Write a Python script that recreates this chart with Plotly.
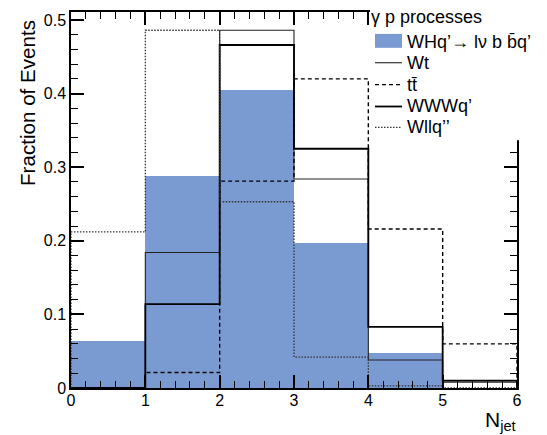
import plotly.graph_objects as go

# Jet multiplicity, normalised to unit area, for the gamma-p processes
bin_edges = [0, 1, 2, 3, 4, 5, 6]
whq = [0.064, 0.288, 0.405, 0.197, 0.048, 0.0]
wt = [0.0, 0.184, 0.486, 0.284, 0.038, 0.008]
ttbar = [0.0, 0.021, 0.281, 0.420, 0.216, 0.060]
wwwq = [0.0, 0.114, 0.466, 0.325, 0.083, 0.010]
wllq = [0.212, 0.486, 0.253, 0.042, 0.003, 0.0]

labels = ["WHq\u2019\u2192 l\u03bd b b\u0304q\u2019", "Wt", "tt\u0304", "WWWq\u2019", "Wllq\u2019\u2019"]
legend_title = "\u03b3 p processes"
x_ticks = [0, 1, 2, 3, 4, 5, 6]
y_ticks = [0, 0.1, 0.2, 0.3, 0.4, 0.5]
y_ticktext = ["0", "0.1", "0.2", "0.3", "0.4", "0.5"]

FILL = "rgb(122,154,210)"
FONT = "Liberation Sans, Arial, Helvetica, sans-serif"

W, H = 547, 435
ML, MR, MT, MB = 71, 30, 10, 47
PW, PH = W - ML - MR, H - MT - MB


def px(x):
    return (x - ML) / PW


def py(y):
    return (H - MB - y) / PH


def step_outline(values):
    xs = [bin_edges[0]] + bin_edges[:-1] + [bin_edges[-1], bin_edges[-1]]
    ys = [0] + values + [values[-1], 0]
    return xs, ys


fig = go.Figure()

centers = [(a + b) / 2 for a, b in zip(bin_edges[:-1], bin_edges[1:])]
fig.add_trace(go.Bar(x=centers, y=whq, width=1, marker=dict(color=FILL, line=dict(width=0)),
                     name=labels[0]))

line_styles = [
    (wt, dict(color="#222222", width=1.1), labels[1]),
    (ttbar, dict(color="black", width=1.4, dash="4px,3px"), labels[2]),
    (wwwq, dict(color="black", width=1.8), labels[3]),
    (wllq, dict(color="#333333", width=1.3, dash="1.5px,1.5px"), labels[4]),
]
for vals, ls, name in line_styles:
    xs, ys = step_outline(vals)
    fig.add_trace(go.Scatter(x=xs, y=ys, mode="lines", line=dict(shape="hv", **ls), name=name))

axis_common = dict(
    showline=True, linecolor="black", linewidth=1.5, mirror="ticks",
    ticks="inside", ticklen=13, tickwidth=1.5, tickcolor="black",
    showgrid=False, zeroline=False,
    tickfont=dict(family=FONT, size=16, color="black"),
)
fig.update_xaxes(range=[0, 6], tickvals=x_ticks, ticklabelstandoff=-3,
                 minor=dict(dtick=0.2, ticks="inside", ticklen=7, tickwidth=1.1, tickcolor="black"),
                 **axis_common)
fig.update_yaxes(range=[0, PH / 740], tickvals=y_ticks, ticktext=y_ticktext,
                 minor=dict(dtick=0.02, ticks="inside", ticklen=7, tickwidth=1.1, tickcolor="black"),
                 **axis_common)

# legend panel
shapes = [
    dict(type="rect", xref="paper", yref="paper", x0=px(370), x1=px(W + 2), y0=py(139), y1=py(-2),
         fillcolor="white", line=dict(width=0), layer="above"),
    dict(type="rect", xref="paper", yref="paper", x0=px(375), x1=px(402), y0=py(46), y1=py(32),
         fillcolor=FILL, line=dict(width=0), layer="above"),
]
rows = [40, 61, 83, 105, 126]
for (vals, ls, name), yrow in zip(line_styles, rows[1:]):
    shapes.append(dict(type="line", xref="paper", yref="paper", x0=px(375), x1=px(402),
                       y0=py(yrow), y1=py(yrow), line=ls, layer="above"))

annotations = [
    dict(text=legend_title, xref="paper", yref="paper", x=px(369), y=py(15), xanchor="left",
         yanchor="middle", showarrow=False, font=dict(family=FONT, size=18, color="black")),
]
for name, yrow in zip(labels, rows):
    annotations.append(dict(text=name, xref="paper", yref="paper", x=px(405), y=py(yrow),
                            xanchor="left", yanchor="middle", showarrow=False,
                            font=dict(family=FONT, size=18, color="black")))

annotations.append(dict(text="Fraction of Events", xref="paper", yref="paper", x=px(28), y=py(16),
                        xanchor="center", yanchor="top", textangle=-90, showarrow=False,
                        font=dict(family=FONT, size=20.6, color="black")))
annotations.append(dict(text="N<sub>jet</sub>", xref="paper", yref="paper", x=px(518), y=py(406),
                        xanchor="right", yanchor="top", showarrow=False,
                        font=dict(family=FONT, size=21, color="black")))

fig.update_layout(
    width=W, height=H,
    margin=dict(l=ML, r=MR, t=MT, b=MB),
    paper_bgcolor="white", plot_bgcolor="white",
    showlegend=False, bargap=0,
    shapes=shapes, annotations=annotations,
)

fig.write_html("out.html")
